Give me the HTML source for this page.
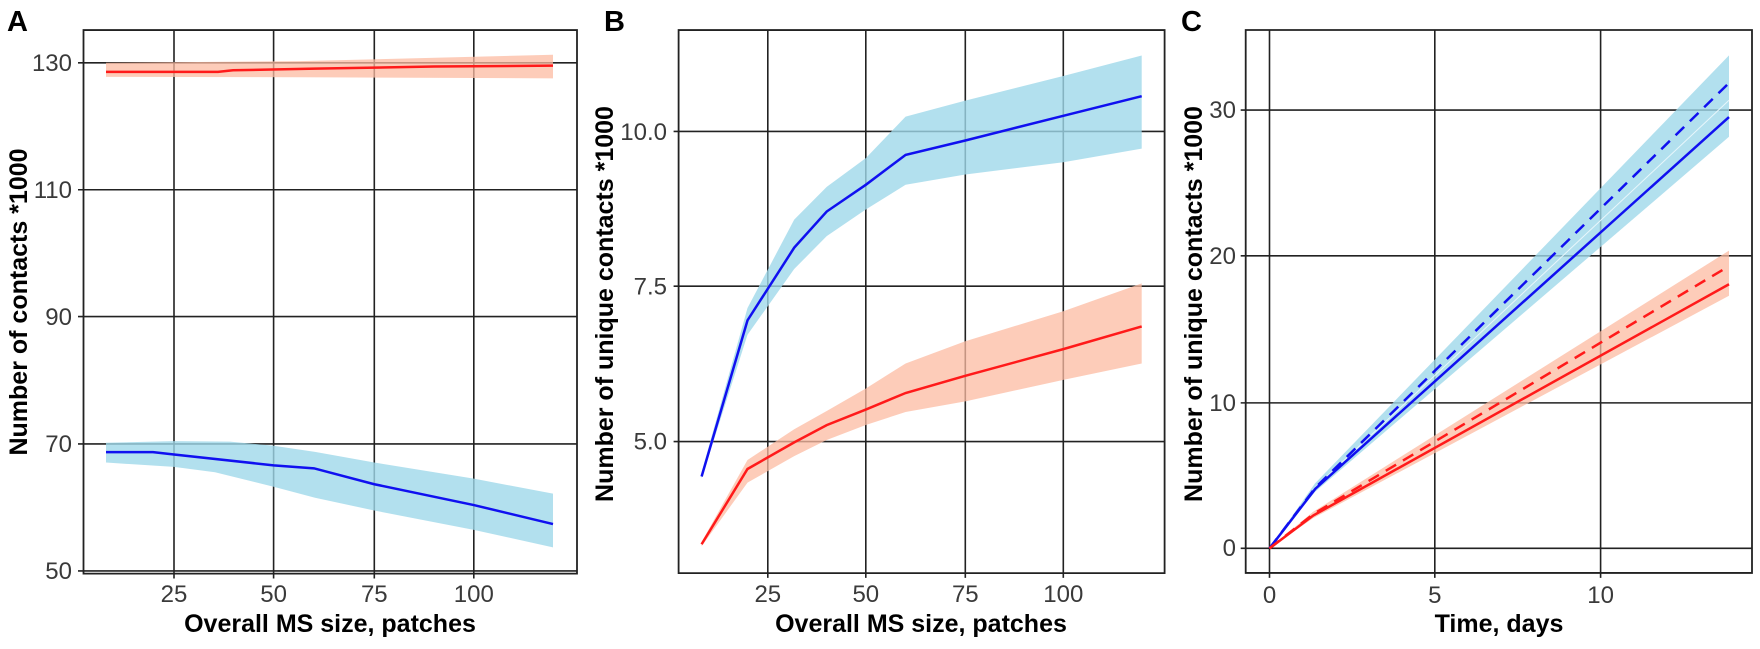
<!DOCTYPE html>
<html><head><meta charset="utf-8"><style>
html,body{margin:0;padding:0;background:#fff;}
svg text{font-family:"Liberation Sans",Arial,sans-serif;}
.tk{fill:#3a3a3a;font-size:24px;}
.ti{fill:#000;font-size:25px;font-weight:bold;}
.pl{fill:#000;font-size:29px;font-weight:bold;}
.g{stroke:#222;stroke-width:1.6;fill:none;}
.bx{stroke:#222;stroke-width:1.8;fill:none;}
svg *{vector-effect:non-scaling-stroke;}
</style></head><body>
<svg width="1760" height="644" viewBox="0 0 1760 644" xmlns="http://www.w3.org/2000/svg">
<rect width="1760" height="644" fill="#fff"/>
<!-- Panel A -->
<text class="pl" x="7" y="31">A</text>
<g transform="matrix(1,0,0,1.0732,0,0)">
<line class="g" x1="78" y1="58.5" x2="577" y2="58.5"/>
<line class="g" x1="78" y1="176.8" x2="577" y2="176.8"/>
<line class="g" x1="78" y1="295" x2="577" y2="295"/>
<line class="g" x1="78" y1="413.7" x2="577" y2="413.7"/>
<line class="g" x1="78" y1="532" x2="577" y2="532"/>
<line class="g" x1="174" y1="28" x2="174" y2="539"/>
<line class="g" x1="273.6" y1="28" x2="273.6" y2="539"/>
<line class="g" x1="374.3" y1="28" x2="374.3" y2="539"/>
<line class="g" x1="473.8" y1="28" x2="473.8" y2="539"/>
<polygon fill="#fcbba1" fill-opacity="0.75" points="106,58.5 300,57 553,51 553,73 300,72 106,71.6"/>
<polygon fill="#9fd8ea" fill-opacity="0.8" points="106,412.6 174,411 230,411.5 273.6,415.3 315,421 374.3,431 473.8,446 553,460 553,510 473.8,493.7 374.3,475.7 315,463.8 273.6,453.5 215,440 174,435 106,431"/>
<polyline fill="none" stroke="#ff1a1a" stroke-width="2.5" points="106,67 218,67 233,65.5 315,64 434,62 553,61.2"/>
<polyline fill="none" stroke="#1010f0" stroke-width="2.5" points="106,421.3 153,421.3 174,423.5 273.6,433.6 314,436.4 374.3,451.2 473.8,470.6 553,488.3"/>
<rect class="bx" x="83.5" y="28" width="493.5" height="506.5"/>
</g>
<text class="tk" x="72" y="71" text-anchor="end">130</text>
<text class="tk" x="72" y="198" text-anchor="end">110</text>
<text class="tk" x="72" y="325" text-anchor="end">90</text>
<text class="tk" x="72" y="452" text-anchor="end">70</text>
<text class="tk" x="72" y="579" text-anchor="end">50</text>
<text class="tk" x="174" y="602" text-anchor="middle">25</text>
<text class="tk" x="273.6" y="602" text-anchor="middle">50</text>
<text class="tk" x="374.3" y="602" text-anchor="middle">75</text>
<text class="tk" x="473.8" y="602" text-anchor="middle">100</text>
<text class="ti" x="330" y="632" text-anchor="middle">Overall MS size, patches</text>
<text class="ti" transform="translate(27,302) rotate(-90)" text-anchor="middle">Number of contacts *1000</text>

<!-- Panel B -->
<text class="pl" x="604" y="31">B</text>
<g transform="matrix(1,0,0,1.0732,0,0)">
<line class="g" x1="673.6" y1="122.5" x2="1165" y2="122.5"/>
<line class="g" x1="673.6" y1="266.7" x2="1165" y2="266.7"/>
<line class="g" x1="673.6" y1="411.4" x2="1165" y2="411.4"/>
<line class="g" x1="767.8" y1="28" x2="767.8" y2="538.5"/>
<line class="g" x1="865.8" y1="28" x2="865.8" y2="538.5"/>
<line class="g" x1="965.3" y1="28" x2="965.3" y2="538.5"/>
<line class="g" x1="1063.3" y1="28" x2="1063.3" y2="538.5"/>
<polygon fill="#9fd8ea" fill-opacity="0.8" points="701.6,440 747.5,287 794.2,204.7 826.7,174.1 865.8,147.3 905.6,108.7 965.3,93.8 1063.3,70.8 1141.7,51.7 1141.7,138.5 1063.3,151.2 965.3,162.6 905.6,172.2 865.8,195.2 826.7,220 794.2,250.7 747.5,311.9 701.6,445.8"/>
<polygon fill="#fcbba1" fill-opacity="0.75" points="701.6,505 747.5,428.6 794.2,400 826.7,383 865.8,362 905.6,338.7 965.3,318 1063.3,290 1141.7,264 1141.7,338.7 1063.3,354 965.3,374 905.6,383.9 865.8,396 826.7,410 794.2,425 747.5,449.7 701.6,509"/>
<polyline fill="none" stroke="#1010f0" stroke-width="2.5" points="701.6,444 747.5,298.5 794.2,230.8 826.7,197.1 865.8,172.2 905.6,144.3 965.3,130.9 1063.3,107.9 1141.7,89.6"/>
<polyline fill="none" stroke="#ff1a1a" stroke-width="2.5" points="701.6,507.1 747.5,437 794.2,412.2 826.7,396.1 865.8,381.6 905.6,366.2 965.3,350.2 1063.3,325.3 1141.7,304.2"/>
<rect class="bx" x="678.6" y="28" width="486" height="506"/>
</g>
<text class="tk" x="667" y="140" text-anchor="end">10.0</text>
<text class="tk" x="667" y="294.5" text-anchor="end">7.5</text>
<text class="tk" x="667" y="449.5" text-anchor="end">5.0</text>
<text class="tk" x="767.8" y="602" text-anchor="middle">25</text>
<text class="tk" x="865.8" y="602" text-anchor="middle">50</text>
<text class="tk" x="965.3" y="602" text-anchor="middle">75</text>
<text class="tk" x="1063.3" y="602" text-anchor="middle">100</text>
<text class="ti" x="921" y="632" text-anchor="middle">Overall MS size, patches</text>
<text class="ti" transform="translate(613,304) rotate(-90)" text-anchor="middle">Number of unique contacts *1000</text>

<!-- Panel C -->
<text class="pl" x="1181" y="31">C</text>
<g transform="matrix(1,0,0,1.0555,0,0)">
<line class="g" x1="1240.7" y1="104.3" x2="1752" y2="104.3"/>
<line class="g" x1="1240.7" y1="242.4" x2="1752" y2="242.4"/>
<line class="g" x1="1240.7" y1="381.7" x2="1752" y2="381.7"/>
<line class="g" x1="1240.7" y1="519.5" x2="1752" y2="519.5"/>
<line class="g" x1="1269.5" y1="28.4" x2="1269.5" y2="547.5"/>
<line class="g" x1="1434.8" y1="28.4" x2="1434.8" y2="547.5"/>
<line class="g" x1="1600.6" y1="28.4" x2="1600.6" y2="547.5"/>
<polygon fill="#9fd8ea" fill-opacity="0.8" points="1269.5,519.5 1315,458 1729,52.5 1729,129.6 1315,466"/>
<polygon fill="#fcbba1" fill-opacity="0.75" points="1269.5,519.5 1313,485 1729,237.4 1729,280.2 1313,491"/>
<line x1="1315" y1="462" x2="1729" y2="95" stroke="#e8f6fb" stroke-width="1"/>
<polyline fill="none" stroke="#1010f0" stroke-width="2.5" points="1269.5,519.5 1315.4,463 1729,110.9"/>
<polyline fill="none" stroke="#1010f0" stroke-width="2.5" stroke-dasharray="12,8" points="1269.5,519.5 1315.4,462 1729,78.6"/>
<polyline fill="none" stroke="#ff1a1a" stroke-width="2.5" points="1269.5,519.5 1313.4,488.3 1729,269.3"/>
<polyline fill="none" stroke="#ff1a1a" stroke-width="2.5" stroke-dasharray="12,8" points="1269.5,519.5 1313.4,487 1729,252.1"/>
<rect class="bx" x="1245.7" y="28.4" width="506.3" height="514.4"/>
</g>
<text class="tk" x="1236" y="118" text-anchor="end">30</text>
<text class="tk" x="1236" y="264" text-anchor="end">20</text>
<text class="tk" x="1236" y="411" text-anchor="end">10</text>
<text class="tk" x="1236" y="556" text-anchor="end">0</text>
<text class="tk" x="1269.5" y="603" text-anchor="middle">0</text>
<text class="tk" x="1434.8" y="603" text-anchor="middle">5</text>
<text class="tk" x="1600.6" y="603" text-anchor="middle">10</text>
<text class="ti" x="1499" y="632" text-anchor="middle">Time, days</text>
<text class="ti" transform="translate(1202,304) rotate(-90)" text-anchor="middle">Number of unique contacts *1000</text>
</svg>
</body></html>
